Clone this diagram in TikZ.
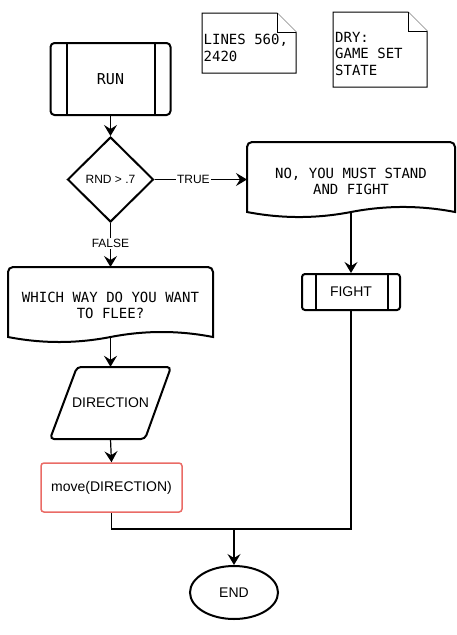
\documentclass[tikz,border=0pt]{standalone}
\usepackage{fontspec}
\newfontfamily\monof{DejaVu Sans Mono}
\newfontfamily\sansf{Liberation Sans}
\usetikzlibrary{shapes.geometric,arrows.meta}
\definecolor{redline}{HTML}{EA6B66}
\begin{document}
\begin{tikzpicture}[x=1pt,y=-1pt,
  shp/.style={draw, line width=2pt, fill=white},
  conn/.style={line width=1.2pt},
  arr/.style={conn, -{Stealth[length=11pt,width=13pt,inset=4pt]}},
  mono/.style={font=\monof\fontsize{14}{16}\selectfont, align=center, inner sep=0pt},
  sans/.style={font=\sansf\fontsize{14}{16}\selectfont},
  lbl/.style={font=\sansf\fontsize{12}{14}\selectfont, fill=white, inner sep=1pt},
  notebox/.style={draw, line width=1pt, fill=white},
  notetext/.style={font=\monof\fontsize{14}{16.5}\selectfont, align=left, inner sep=0pt, anchor=north west}]
\useasboundingbox (0,0) rectangle (456,635);

% notes
\draw[notebox] (202,13) -- (277,13) -- (296,32) -- (296,73) -- (202,73) -- cycle;
\draw[notebox] (277,13) -- (277,32) -- (296,32);
\node[notetext] (n1) at (203.5,34) {LINES 560,\\2420};
\draw[notebox] (333,12) -- (408,12) -- (427,31) -- (427,87) -- (333,87) -- cycle;
\draw[notebox] (408,12) -- (408,31) -- (427,31);
\node[notetext] (n2) at (335,32) {DRY:\\GAME SET\\STATE};

% RUN
\node[shp, rounded corners=4pt, minimum width=120pt, minimum height=72pt,
      font=\monof\fontsize{15}{18}\selectfont] (run) at (110.5,79) {RUN};
\draw[line width=2pt] ([xshift=17pt]run.north west) -- ([xshift=17pt]run.south west);
\draw[line width=2pt] ([xshift=-17pt]run.north east) -- ([xshift=-17pt]run.south east);

% decision
\node[shp, diamond, minimum width=86pt, minimum height=85pt, inner sep=0pt,
      font=\sansf\fontsize{12}{14}\selectfont] (dec) at (110.5,179.5) {RND > .7};

% document 1
\draw[shp] (247,212) [rounded corners=5pt] -- (247,142) -- (455,142) [sharp corners] -- (455,212)
  .. controls (420.3,205.3) and (385.7,205.3) .. (351,212)
  .. controls (316.3,218.7) and (281.7,218.7) .. (247,212) -- cycle;
\node[mono] (doc1) at (351,181) {NO, YOU MUST STAND\\AND FIGHT};
\coordinate (doc1l) at (247,179.5);
\coordinate (doc1b) at (351,212);

% document 2
\draw[shp] (8,337) [rounded corners=5pt] -- (8,267) -- (213,267) [sharp corners] -- (213,337)
  .. controls (178.83,330.33) and (144.67,330.33) .. (110.5,337)
  .. controls (76.33,343.67) and (42.17,343.67) .. (8,337) -- cycle;
\node[mono] (doc2) at (110.5,305.5) {WHICH WAY DO YOU WANT\\TO FLEE?};
\coordinate (doc2t) at (110.5,267);
\coordinate (doc2b) at (110.5,337);

% FIGHT
\node[shp, rounded corners=3pt, minimum width=98pt, minimum height=36pt, sans] (fight) at (351,292) {FIGHT};
\draw[line width=2pt] ([xshift=15pt]fight.north west) -- ([xshift=15pt]fight.south west);
\draw[line width=2pt] ([xshift=-13pt]fight.north east) -- ([xshift=-13pt]fight.south east);

% parallelogram
\draw[shp, rounded corners=4pt] (77,367) -- (171,367) -- (145,439) -- (50,439) -- cycle;
\node[sans, minimum height=72pt, inner sep=0pt] (dir) at (110.5,403) {DIRECTION};

% move
\node[draw=redline, line width=1.5pt, rounded corners=3pt, minimum width=141pt, minimum height=49pt,
      fill=white, sans] (move) at (111.5,487.5) {move(DIRECTION)};

% END
\node[shp, ellipse, minimum width=88pt, minimum height=53pt, sans] (end) at (234,592.5) {END};

% connectors
\coordinate (merge) at (235,529);
\draw[arr] (run.south) -- (dec.north);
\draw[arr] (dec.east) -- node[lbl, pos=0.42] {TRUE} (doc1l);
\draw[arr] (dec.south) -- node[lbl, pos=0.47] {FALSE} (doc2t);
\draw[arr] (doc1b) -- (fight.north);
\draw[arr] (doc2b) -- (dir.north);
\draw[arr] (dir.south) -- (move.north);
\draw[conn] (fight.south) -- (fight.south |- merge) -| (move.south);
\draw[arr] (end.north |- merge) -- (end.north);
\end{tikzpicture}
\end{document}
